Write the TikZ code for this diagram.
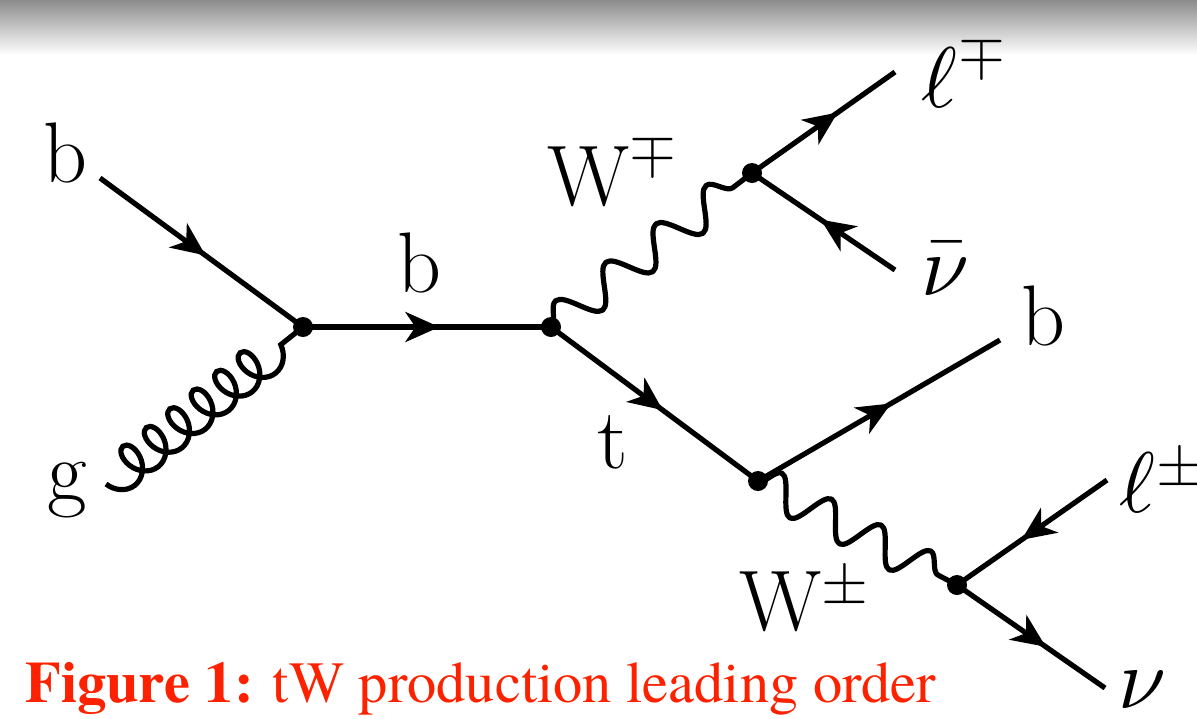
\documentclass[tikz,border=0pt]{standalone}
\usepackage{fontspec}
\usepackage{unicode-math}
\setmathfont{Latin Modern Math}
\newfontfamily\capfont{texgyretermes}[Extension=.otf, UprightFont=*-regular, BoldFont=*-bold]
\usetikzlibrary{arrows.meta,decorations.pathmorphing,decorations.markings}
\definecolor{capred}{RGB}{252,34,0}
\tikzset{
  fermion/.style={line width=2.6pt, postaction={decorate},
    decoration={markings, mark=at position #1 with {\arrow{Stealth[length=17pt,width=15pt,inset=5pt]}}}},
  fermion/.default=0.55,
  boson/.style={line width=2.6pt, line join=round, decorate,
    decoration={snake, amplitude=9pt, segment length=#1}},
  gluon/.style={line width=2.6pt, decorate,
    decoration={coil, mirror, amplitude=9.5pt, segment length=15pt, aspect=0.75}},
  dot/.style={circle, fill=black, inner sep=0pt, minimum size=10pt},
  lab/.style={font=\fontsize{43}{47}\selectfont, anchor=base, inner sep=0pt},
}
\begin{document}
\begin{tikzpicture}[x=0.5pt, y=-0.5pt]
\fill[white] (0,0) rectangle (1197,718);
\useasboundingbox (0,0) rectangle (1197,718);
\shade[top color=black!45, bottom color=white] (0,0) rectangle (1197,55);

% vertices and external ends
\coordinate (v1) at (303,327);
\coordinate (v2) at (551,327);
\coordinate (v3) at (752,173);
\coordinate (v4) at (758,481);
\coordinate (v5) at (957,585);
\coordinate (bin) at (100,178);
\coordinate (gin) at (106,484);
\coordinate (lm) at (895,72);
\coordinate (nub) at (895,270);
\coordinate (bout) at (1000,340);
\coordinate (lp) at (1107,480);
\coordinate (nu) at (1105,688);

% propagators
\draw[fermion=0.52] (bin) -- (v1);
\draw[gluon] (gin) -- (v1);
\draw[fermion=0.55] (v1) -- (v2);
\draw[boson=31.6pt] (v2) -- (v3);
\draw[fermion=0.6] (v3) -- (lm);
\draw[fermion=0.52] (nub) -- (v3);
\draw[fermion=0.54] (v2) -- (v4);
\draw[fermion=0.55] (v4) -- (bout);
\draw[boson=28pt] (v4) -- (v5);
\draw[fermion=0.57] (lp) -- (v5);
\draw[fermion=0.6] (v5) -- (nu);

% dots
\node[dot] (d1) at (v1) {};
\node[dot] (d2) at (v2) {};
\node[dot] (d3) at (v3) {};
\node[dot] (d4) at (v4) {};
\node[dot] (d5) at (v5) {};

% labels
\node[lab] (lb1) at (65,182) {$\mathrm{b}$};
\node[lab] (lg) at (67,500) {$\mathrm{g}$};
\node[lab] (lb2) at (419,292) {$\mathrm{b}$};
\node[lab] (lWm) at (612,205) {$\mathrm{W}^{\mp}$};
\node[lab] (llm) at (964,107) {$\ell^{\mp}$};
\node[lab] (lnub) at (945,295) {$\bar{\nu}$};
\node[lab] (lb3) at (1043,345) {$\mathrm{b}$};
\node[lab] (lt) at (613,468) {$\mathrm{t}$};
\node[lab] (lWp) at (804,630) {$\mathrm{W}^{\pm}$};
\node[lab] (llp) at (1162,512) {$\ell^{\pm}$};
\node[lab] (lnu) at (1142,708) {$\nu$};

% caption
\node[anchor=base west, inner sep=0pt, text=capred, font=\capfont\fontsize{29.2}{32}\selectfont] (cap) at (25,702) {\textbf{Figure 1:} tW production leading order};
\end{tikzpicture}
\end{document}
